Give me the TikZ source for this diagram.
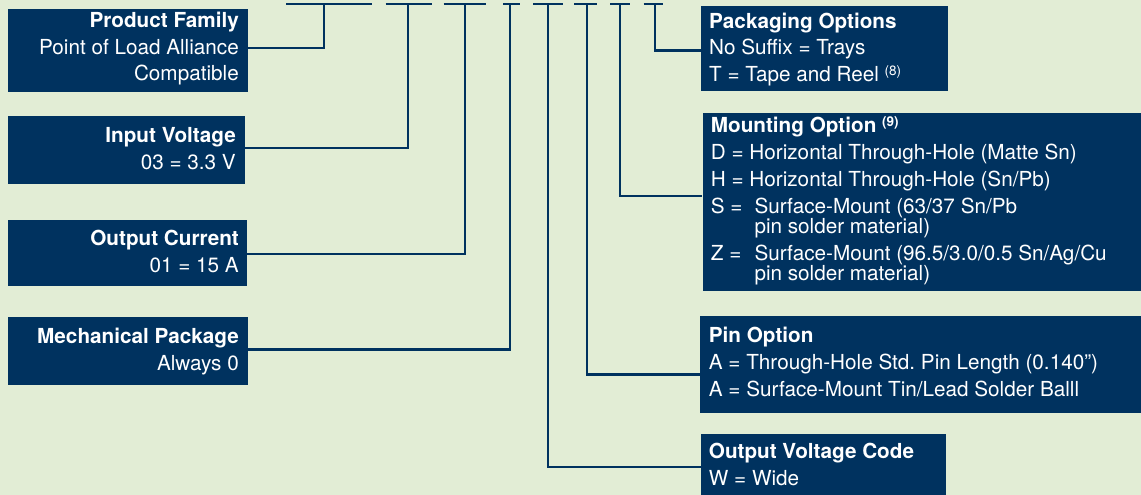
\documentclass[tikz,border=0pt]{standalone}
\usepackage{fontspec}
\setmainfont{TeX Gyre Heros}

\definecolor{marine}{HTML}{00325F}
\definecolor{fond}{HTML}{E2EDD5}

\tikzset{
  boite/.style={fill=marine, inner sep=0pt, anchor=north west},
  texte/.style={text=white, inner sep=0pt, font=\fontsize{20.7}{26.8}\selectfont},
  trait/.style={draw=marine, line width=2.2pt},
  tiret/.style={draw=marine, line width=2.7pt},
}

\newcommand{\exposant}[1]{\raisebox{6.5pt}{\fontsize{13.5}{13.5}\selectfont #1}}

\begin{document}
\begin{tikzpicture}[x=1pt, y=-1pt]

% Fond
\fill[fond] (0,0) rectangle (1141,495);
\useasboundingbox (0,0) rectangle (1141,495);

% Tirets du code
\foreach \a/\b/\m [count=\i] in {286/371.7/324.3, 385.7/431.7/408.3,
    443.7/485.7/465.3, 503/520/510, 533/563.3/548.3, 574.3/597/587.3,
    610/630.3/620, 643.7/663/655} {
  \draw[tiret] (\a,4) -- (\b,4);
  \coordinate (t\i) at (\m,4);
}

% Boites a gauche (texte cale sur la derniere ligne)
\node[boite, minimum width=240pt, minimum height=82.7pt] (famille) at (8,9) {};
\node[boite, minimum width=237pt, minimum height=67.7pt] (tension) at (8,116) {};
\node[boite, minimum width=239pt, minimum height=65.7pt] (courant) at (8,220) {};
\node[boite, minimum width=239.7pt, minimum height=68pt] (boitier) at (8,316.7) {};

\node[texte, align=right, anchor=base east] (famille-t) at (239,81)
  {\textbf{Product Family}\\Point of Load Alliance\\Compatible};
\node[texte, align=right, anchor=base east] (tension-t) at (236,169)
  {\textbf{Input Voltage}\\03 = 3.3 V};
\node[texte, align=right, anchor=base east] (courant-t) at (239,272.3)
  {\textbf{Output Current}\\01 = 15 A};
\node[texte, align=right, anchor=base east] (boitier-t) at (239,370)
  {\textbf{Mechanical Package}\\Always 0};

% Boites a droite
\node[boite, minimum width=246.7pt, minimum height=84.7pt] (emballage) at (701,6) {};
\node[boite, minimum width=438.7pt, minimum height=178.4pt] (montage) at (702.3,112.3) {};
\node[boite, minimum width=441pt, minimum height=96.7pt] (broche) at (700,316) {};
\node[boite, minimum width=245pt, minimum height=61pt] (code) at (701,434) {};

\node[texte, align=left, anchor=base west] (emballage-t) at (709,81.7)
  {\textbf{Packaging Options}\\No Suffix = Trays\\T = Tape and Reel \exposant{(8)}};
\node[texte, align=left, anchor=base west] (montage-t) at (710.7,280)
  {\textbf{Mounting Option \exposant{(9)}}\\
   D = Horizontal Through-Hole (Matte Sn)\\
   H = Horizontal Through-Hole (Sn/Pb)\\
   \makebox[43.6pt][l]{S =}Surface-Mount (63/37 Sn/Pb\\[-6.8pt]
   \hspace*{43.6pt}pin solder material)\\
   \makebox[43.6pt][l]{Z =}Surface-Mount (96.5/3.0/0.5 Sn/Ag/Cu\\[-6.8pt]
   \hspace*{43.6pt}pin solder material)};
\node[texte, align=left, anchor=base west] (broche-t) at (708.7,396)
  {\textbf{Pin Option}\\A = Through-Hole Std.\ Pin Length (0.140”)\\A = Surface-Mount Tin/Lead Solder Balll};
\node[texte, align=left, anchor=base west] (code-t) at (708.7,485.7)
  {\textbf{Output Voltage Code}\\W = Wide};

% Liaisons
\draw[trait] ([yshift=2.65pt]famille.east) -| (t1);
\draw[trait] ([yshift=1.85pt]tension.east) -| (t2);
\draw[trait] ([yshift=-1pt]courant.east) -| (t3);
\draw[trait] ([yshift=1.4pt]boitier.east) -| (t4);
\draw[trait] (t5) |- ([yshift=-2.2pt]code.west);
\draw[trait] (t6) |- ([yshift=-10pt]broche.west);
\draw[trait] (t7) |- ([yshift=5.8pt]montage.west);
\draw[trait] (t8) |- ([yshift=-2pt]emballage.west);

\end{tikzpicture}
\end{document}
